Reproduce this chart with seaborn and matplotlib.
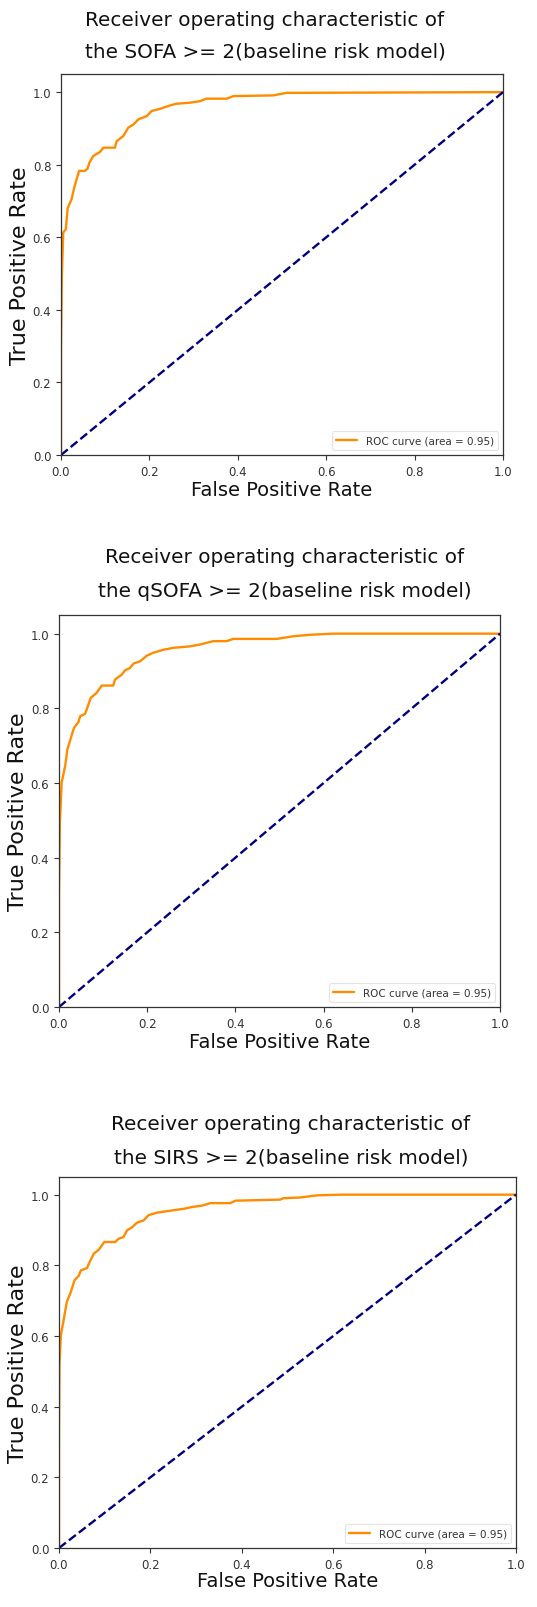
import matplotlib
matplotlib.use("Agg")
import matplotlib.pyplot as plt
import seaborn as sns
import numpy as np

sns.set_style("ticks")
plt.rcParams['font.family'] = ['DejaVu Sans']

# ---------------- data ----------------
titles = [
    "the SOFA >= 2(baseline risk model)",
    "the qSOFA >= 2(baseline risk model)",
    "the SIRS >= 2(baseline risk model)",
]
title_line1 = "Receiver operating characteristic of"
legend_label = "ROC curve (area = 0.95)"

fpr_sofa = [0.0, 0.0, 0.002, 0.005, 0.011, 0.015, 0.024, 0.029, 0.034, 0.041, 0.054, 0.06, 0.064,
            0.073, 0.088, 0.096, 0.122, 0.126, 0.141, 0.152, 0.164, 0.175, 0.194, 0.205, 0.224,
            0.246, 0.261, 0.292, 0.314, 0.329, 0.375, 0.39, 0.48, 0.51, 1.0]
tpr_sofa = [0.0, 0.30, 0.494, 0.613, 0.622, 0.68, 0.705, 0.732, 0.755, 0.783, 0.783, 0.789, 0.805,
            0.824, 0.835, 0.847, 0.847, 0.865, 0.879, 0.902, 0.911, 0.925, 0.934, 0.948, 0.954,
            0.963, 0.968, 0.971, 0.975, 0.982, 0.982, 0.989, 0.991, 0.998, 1.0]

fpr_qsofa = [0.0, 0.0, 0.002, 0.006, 0.014, 0.019, 0.026, 0.034, 0.044, 0.048, 0.059, 0.064, 0.072,
             0.085, 0.097, 0.123, 0.127, 0.142, 0.15, 0.161, 0.169, 0.184, 0.199, 0.214, 0.237,
             0.259, 0.297, 0.32, 0.35, 0.38, 0.395, 0.494, 0.531, 0.569, 0.62, 1.0]
tpr_qsofa = [0.0, 0.30, 0.494, 0.601, 0.646, 0.69, 0.717, 0.748, 0.763, 0.779, 0.785, 0.801, 0.828,
             0.841, 0.861, 0.861, 0.877, 0.89, 0.902, 0.908, 0.92, 0.926, 0.941, 0.949, 0.957,
             0.962, 0.966, 0.971, 0.98, 0.98, 0.986, 0.986, 0.993, 0.997, 1.0, 1.0]

fpr_sirs = [0.0, 0.0, 0.001, 0.004, 0.01, 0.017, 0.026, 0.034, 0.043, 0.048, 0.061, 0.067, 0.076,
            0.087, 0.099, 0.123, 0.13, 0.141, 0.149, 0.16, 0.171, 0.185, 0.196, 0.214, 0.251,
            0.273, 0.291, 0.313, 0.331, 0.375, 0.386, 0.484, 0.491, 0.528, 0.564, 0.615, 1.0]
tpr_sirs = [0.0, 0.30, 0.517, 0.602, 0.644, 0.696, 0.725, 0.758, 0.77, 0.786, 0.792, 0.809, 0.833,
            0.844, 0.866, 0.866, 0.875, 0.88, 0.899, 0.908, 0.921, 0.927, 0.942, 0.949, 0.956,
            0.96, 0.965, 0.969, 0.976, 0.976, 0.983, 0.986, 0.99, 0.992, 0.998, 1.0, 1.0]

diag = [0.0, 1.0]
ticks = [0.0, 0.2, 0.4, 0.6, 0.8, 1.0]

curves = [(fpr_sofa, tpr_sofa), (fpr_qsofa, tpr_qsofa), (fpr_sirs, tpr_sirs)]

# ---------------- layout (pixels) ----------------
W, H = 537, 1608
fig = plt.figure(figsize=(W / 100, H / 100), dpi=100)
fig.patch.set_facecolor("white")

# (left, right, top, bottom) in pixels
boxes = [(61, 503, 75, 456), (59, 500, 616, 1008), (59, 516, 1178, 1549)]
title_pos = [(265, 20, 52), (285, 558, 592), (291, 1125, 1158)]
xlabel_y = [490, 1043, 1582]

for i, ((fpr, tpr), (l, r, t, b)) in enumerate(zip(curves, boxes)):
    ax = fig.add_axes([l / W, (H - b) / H, (r - l) / W, (b - t) / H])
    sns.lineplot(x=fpr, y=tpr, estimator=None, sort=False, color="darkorange",
                 linewidth=1.7, label=legend_label, ax=ax)
    sns.lineplot(x=diag, y=diag, estimator=None, sort=False, color="navy",
                 linewidth=1.7, linestyle="--", ax=ax)
    ax.set_xlim(0.0, 1.0)
    ax.set_ylim(0.0, 1.05)
    ax.set_xticks(ticks)
    ax.set_yticks(ticks)
    ax.tick_params(labelsize=8.5, colors="#333333", length=3.5, width=0.8)
    for s in ax.spines.values():
        s.set_visible(True)
        s.set_color("#333333")
        s.set_linewidth(0.9)
    ax.set_ylabel("True Positive Rate", fontsize=16, color="#111111", labelpad=2)
    ax.set_xlabel("")
    fig.text(l / W + (r - l) / W / 2, 1 - xlabel_y[i] / H, "False Positive Rate",
             ha="center", va="center", fontsize=14, color="#111111")
    cx, y1, y2 = title_pos[i]
    fig.text(cx / W, 1 - y1 / H, title_line1, ha="center", va="center",
             fontsize=14.4, color="#111111")
    fig.text(cx / W, 1 - y2 / H, titles[i], ha="center", va="center",
             fontsize=14.4, color="#111111")
    leg = ax.legend(loc="lower right", fontsize=7.5, frameon=True, fancybox=True,
                    handlelength=2.0, borderpad=0.4)
    leg.get_frame().set_edgecolor("#dddddd")
    leg.get_frame().set_linewidth(0.8)
    for txt in leg.get_texts():
        txt.set_color("#333333")

fig.savefig("out.png", dpi=100)
